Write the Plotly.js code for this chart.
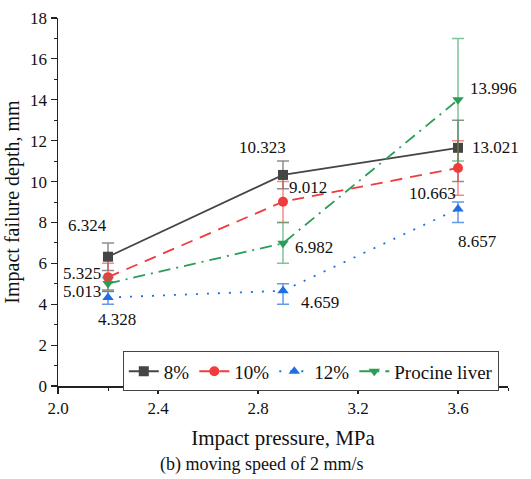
<!DOCTYPE html>
<html>
<head>
<meta charset="utf-8">
<script src="https://cdn.plot.ly/plotly-3.0.1.min.js"></script>
<style>html,body{margin:0;padding:0;background:#fff;}#chart{width:531px;height:479px;}</style>
</head>
<body>
<div id="chart"></div>
<script>
// ---- data ----
const pressure = [2.2, 2.9, 3.6];
const seriesNames = ['8%', '10%', '12%', 'Procine liver'];
const depth8 = [6.324, 10.323, 11.65];
const depth10 = [5.325, 9.012, 10.663];
const depth12 = [4.328, 4.659, 8.657];
const depthLiver = [5.013, 6.982, 13.996];
const errPlus8 = [0.676, 0.677, 1.35];
const errMinus8 = [0.676, 0.677, 1.65];
const errPlus10 = [0.675, 0.988, 1.337];
const errMinus10 = [0.675, 1.012, 1.337];
const errPlus12 = [0.3, 0.341, 0.343];
const errMinus12 = [0.328, 0.659, 0.657];
const errPlusLiver = [0.3, 1.018, 3.004];
const errMinusLiver = [0.3, 0.982, 2.996];
const labels8 = ['6.324', '10.323', '13.021'];
const labels10 = ['5.325', '9.012', '10.663'];
const labels12 = ['4.328', '4.659', '8.657'];
const labelsLiver = ['5.013', '6.982', '13.996'];
const xTickVals = [2.0, 2.4, 2.8, 3.2, 3.6];
const xTickText = ['2.0', '2.4', '2.8', '3.2', '3.6'];

// ---- styles ----
const FONT = 'Liberation Serif, Times New Roman, serif';
const styles = [
  {color: '#454545', err: 'rgba(69,69,69,0.6)', dash: 'solid', symbol: 'square'},
  {color: '#f03c3c', err: 'rgba(240,60,60,0.6)', dash: '12px,8px', symbol: 'circle'},
  {color: '#1f6fe0', err: 'rgba(31,111,224,0.7)', dash: '2px,9px', symbol: 'triangle-up'},
  {color: '#2a9d58', err: 'rgba(42,157,88,0.6)', dash: '12px,6px,2px,6px', symbol: 'triangle-down'}
];
const ys = [depth8, depth10, depth12, depthLiver];
const eplus = [errPlus8, errPlus10, errPlus12, errPlusLiver];
const eminus = [errMinus8, errMinus10, errMinus12, errMinusLiver];
const labs = [labels8, labels10, labels12, labelsLiver];
// label pixel offsets (dx, dy downward) per series per point
const offsets = [
  [[-21, -31], [-21, -27], [37, 0]],
  [[-26, -4], [25, -14], [-26, 25]],
  [[9, 22], [37, 12], [19, 32]],
  [[-26, 8], [31, 4], [35, -11]]
];

const traces = ys.map((y, i) => ({
  x: pressure, y: y, name: seriesNames[i], type: 'scatter', mode: 'lines+markers',
  line: {color: styles[i].color, dash: styles[i].dash, width: 1.8},
  marker: {color: styles[i].color, symbol: styles[i].symbol, size: 10},
  error_y: {type: 'data', symmetric: false, array: eplus[i], arrayminus: eminus[i],
            color: styles[i].err, thickness: 1.5, width: 6}
}));

const annotations = [];
ys.forEach((y, i) => {
  y.forEach((v, j) => {
    annotations.push({x: pressure[j], y: v, xref: 'x', yref: 'y', text: labs[i][j],
      showarrow: false, xshift: offsets[i][j][0], yshift: -offsets[i][j][1],
      font: {family: FONT, size: 17, color: '#111'}});
  });
});
annotations.push({xref: 'paper', yref: 'paper', x: 0.453, y: -0.213, yanchor: 'middle',
  text: '(b) moving speed of 2 mm/s', showarrow: false,
  font: {family: FONT, size: 18, color: '#111'}});

const layout = {
  width: 531, height: 479,
  margin: {l: 58, r: 23, t: 18, b: 93},
  paper_bgcolor: '#fff', plot_bgcolor: '#fff',
  font: {family: FONT, size: 17, color: '#111'},
  showlegend: true,
  legend: {orientation: 'h', x: 0.144, y: 0.094, xanchor: 'left', yanchor: 'top',
    bordercolor: '#444', borderwidth: 1, bgcolor: '#fff',
    font: {family: FONT, size: 19, color: '#111'}, itemwidth: 30, tracegroupgap: 0},
  xaxis: {range: [2.0, 3.8], tickvals: xTickVals, ticktext: xTickText,
    showgrid: false, zeroline: false, showline: true, linecolor: '#222', linewidth: 1.5,
    ticks: 'outside', ticklen: 6, tickwidth: 1.2, tickcolor: '#222',
    minor: {dtick: 0.2, ticks: 'outside', ticklen: 3, tickcolor: '#222', tickwidth: 1},
    tickfont: {family: FONT, size: 17, color: '#111'},
    title: {text: 'Impact pressure, MPa', font: {family: FONT, size: 21, color: '#111'}, standoff: 13}},
  yaxis: {range: [0, 18], dtick: 2, tick0: 0,
    showgrid: false, zeroline: false, showline: true, linecolor: '#222', linewidth: 1.5,
    ticks: 'outside', ticklen: 6, tickwidth: 1.2, tickcolor: '#222',
    minor: {dtick: 1, ticks: 'outside', ticklen: 3, tickcolor: '#222', tickwidth: 1},
    tickfont: {family: FONT, size: 17, color: '#111'},
    title: {text: 'Impact failure depth, mm', font: {family: FONT, size: 20, color: '#111'}, standoff: 5}},
  annotations: annotations
};

Plotly.newPlot('chart', traces, layout, {displayModeBar: false, staticPlot: true});
</script>
</body>
</html>
